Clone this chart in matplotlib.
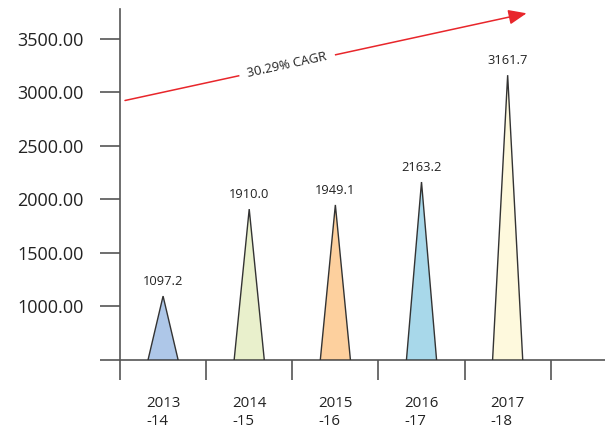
import matplotlib
matplotlib.use("Agg")
import matplotlib.pyplot as plt

plt.rcParams['font.family'] = ['Open Sans', 'DejaVu Sans']

categories = ["2013\n-14", "2014\n-15", "2015\n-16", "2016\n-17", "2017\n-18"]
values = [1097.2, 1910.0, 1949.1, 2163.2, 3161.7]
value_labels = ["1097.2", "1910.0", "1949.1", "2163.2", "3161.7"]
colors = ["#aec7e8", "#e9f0cc", "#fdd09e", "#a8d8ea", "#fef9dd"]
yticks = [500, 1000, 1500, 2000, 2500, 3000, 3500]
ytick_labels = ["", "1000.00", "1500.00", "2000.00", "2500.00", "3000.00", "3500.00"]
cagr_text = "30.29% CAGR"

BASE = 500
WIDTH = 0.35
TEXT = "#222222"
AXC = "#555555"

fig = plt.figure(figsize=(6.05, 4.30), dpi=100)
ax = fig.add_axes([120 / 605, 70 / 430, 485 / 605, 351 / 430])
ax.set_xlim(0, 5.63)
ax.set_ylim(BASE, 3780)

for i, (v, c, lab) in enumerate(zip(values, colors, value_labels)):
    x = i + 0.5
    ax.fill([x - WIDTH / 2, x, x + WIDTH / 2], [BASE, v, BASE],
            facecolor=c, edgecolor="#333333", linewidth=1.0, zorder=3)
    ax.annotate(lab, xy=(x, v), xytext=(0, 6), textcoords="offset points",
                ha="center", va="bottom", fontsize=9.3, color=TEXT)

for s in ["top", "right"]:
    ax.spines[s].set_visible(False)
for s in ["left", "bottom"]:
    ax.spines[s].set_color(AXC)
    ax.spines[s].set_linewidth(1.2)

ax.set_yticks(yticks)
ax.set_yticklabels(ytick_labels)
ax.tick_params(axis="y", length=14.4, width=1.2, color=AXC, pad=12,
               labelsize=13, labelcolor=TEXT)

ax.set_xticks(range(6))
ax.set_xticklabels([""] * 6)
ax.tick_params(axis="x", which="major", length=14.4, width=1.2, color=AXC)
ax.set_xticks([i + 0.5 for i in range(5)], minor=True)
ax.set_xticklabels(categories, minor=True, fontsize=10.8, color=TEXT,
                   multialignment="left", linespacing=1.25)
ax.tick_params(axis="x", which="minor", length=0, pad=26)

# CAGR arrow
ax.annotate("", xy=(4.72, 3740), xytext=(0.058, 2925),
            arrowprops=dict(arrowstyle="-|>,head_length=1.1,head_width=0.45",
                            color="#e8262b", lw=1.1, shrinkA=0, shrinkB=0))
ax.text(1.94, 3255, cagr_text, rotation=12.2, rotation_mode="anchor",
        ha="center", va="center", fontsize=9.4, color=TEXT,
        bbox=dict(facecolor="white", edgecolor="none", pad=6))

fig.savefig("out.png", dpi=100)
